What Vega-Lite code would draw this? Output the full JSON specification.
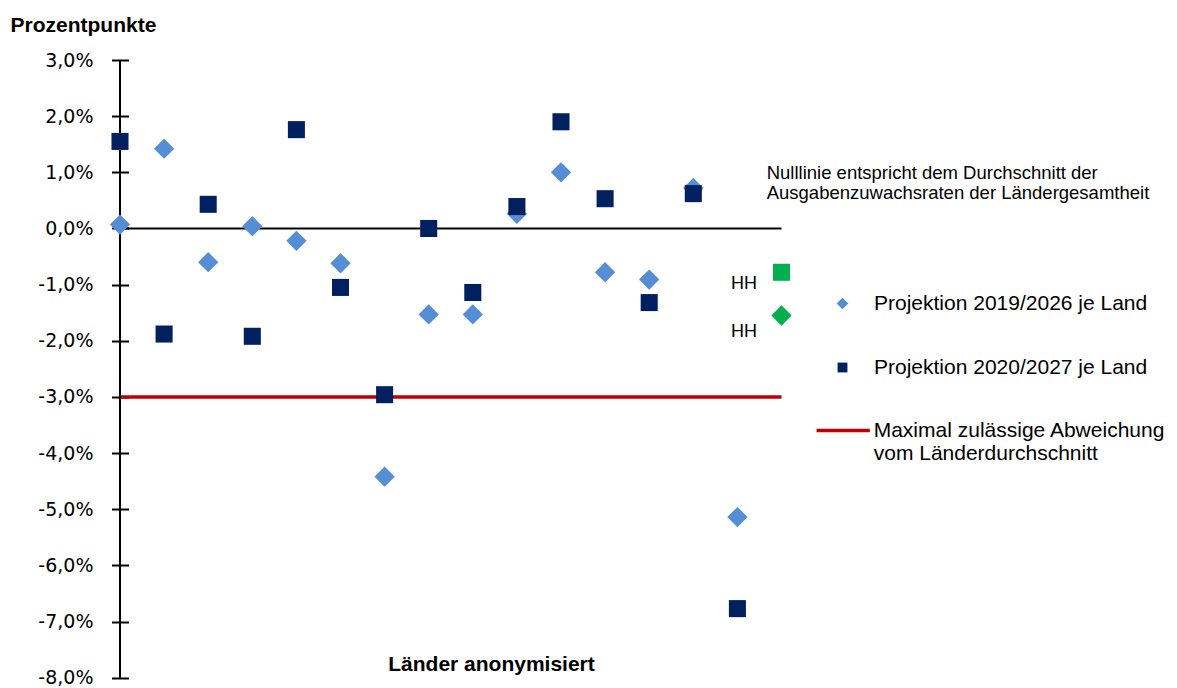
{
  "$schema": "https://vega.github.io/schema/vega-lite/v6.json",
  "width": 661.5,
  "height": 617.7,
  "autosize": "none",
  "padding": {"left": 120, "top": 60, "right": 395.5, "bottom": 10.3},
  "background": "white",
  "config": {
    "view": {"stroke": null},
    "font": "Liberation Sans",
    "locale": {
      "number": {"decimal": ",", "thousands": ".", "grouping": [3], "currency": ["", " €"], "minus": "-"}
    },
    "legend": {
      "labelFont": "Liberation Sans",
      "labelFontSize": 21,
      "labelColor": "#000000",
      "labelLimit": 400,
      "padding": 0,
      "titlePadding": 0
    }
  },
  "datasets": {
    "laender": [
      {"land": "Land 1", "series": "Projektion 2019/2026 je Land", "wert": 0.07},
      {"land": "Land 2", "series": "Projektion 2019/2026 je Land", "wert": 1.42},
      {"land": "Land 3", "series": "Projektion 2019/2026 je Land", "wert": -0.6},
      {"land": "Land 4", "series": "Projektion 2019/2026 je Land", "wert": 0.04},
      {"land": "Land 5", "series": "Projektion 2019/2026 je Land", "wert": -0.22},
      {"land": "Land 6", "series": "Projektion 2019/2026 je Land", "wert": -0.62},
      {"land": "Land 7", "series": "Projektion 2019/2026 je Land", "wert": -4.42},
      {"land": "Land 8", "series": "Projektion 2019/2026 je Land", "wert": -1.53},
      {"land": "Land 9", "series": "Projektion 2019/2026 je Land", "wert": -1.53},
      {"land": "Land 10", "series": "Projektion 2019/2026 je Land", "wert": 0.26},
      {"land": "Land 11", "series": "Projektion 2019/2026 je Land", "wert": 1.0},
      {"land": "Land 12", "series": "Projektion 2019/2026 je Land", "wert": -0.78},
      {"land": "Land 13", "series": "Projektion 2019/2026 je Land", "wert": -0.91},
      {"land": "Land 14", "series": "Projektion 2019/2026 je Land", "wert": 0.72},
      {"land": "Land 15", "series": "Projektion 2019/2026 je Land", "wert": -5.14},
      {"land": "HH", "series": "Projektion 2019/2026 je Land", "wert": -1.55},
      {"land": "Land 1", "series": "Projektion 2020/2027 je Land", "wert": 1.55},
      {"land": "Land 2", "series": "Projektion 2020/2027 je Land", "wert": -1.88},
      {"land": "Land 3", "series": "Projektion 2020/2027 je Land", "wert": 0.43},
      {"land": "Land 4", "series": "Projektion 2020/2027 je Land", "wert": -1.92},
      {"land": "Land 5", "series": "Projektion 2020/2027 je Land", "wert": 1.76},
      {"land": "Land 6", "series": "Projektion 2020/2027 je Land", "wert": -1.05},
      {"land": "Land 7", "series": "Projektion 2020/2027 je Land", "wert": -2.96},
      {"land": "Land 8", "series": "Projektion 2020/2027 je Land", "wert": 0.0},
      {"land": "Land 9", "series": "Projektion 2020/2027 je Land", "wert": -1.14},
      {"land": "Land 10", "series": "Projektion 2020/2027 je Land", "wert": 0.39},
      {"land": "Land 11", "series": "Projektion 2020/2027 je Land", "wert": 1.9},
      {"land": "Land 12", "series": "Projektion 2020/2027 je Land", "wert": 0.53},
      {"land": "Land 13", "series": "Projektion 2020/2027 je Land", "wert": -1.32},
      {"land": "Land 14", "series": "Projektion 2020/2027 je Land", "wert": 0.62},
      {"land": "Land 15", "series": "Projektion 2020/2027 je Land", "wert": -6.77},
      {"land": "HH", "series": "Projektion 2020/2027 je Land", "wert": -0.78}
    ],
    "grenze": [
      {"name": "Maximal zulässige Abweichung vom Länderdurchschnitt", "wert": -3}
    ]
  },
  "layer": [
    {
      "data": {"name": "grenze"},
      "mark": {"type": "rule", "strokeWidth": 3.5},
      "encoding": {
        "y": {"field": "wert", "type": "quantitative", "scale": {"domain": [-8, 3], "nice": false, "zero": false}},
        "stroke": {
          "field": "name",
          "type": "nominal",
          "scale": {"range": ["#C00000"]},
          "legend": {
            "orient": "none",
            "legendX": 694.7,
            "legendY": 342,
            "title": null,
            "symbolType": "stroke",
            "symbolSize": 2841,
            "symbolStrokeWidth": 3.5,
            "labelOffset": 2,
            "labelExpr": "['Maximal zulässige Abweichung', 'vom Länderdurchschnitt']"
          }
        }
      }
    },
    {
      "data": {"values": [{}]},
      "mark": {"type": "rule", "color": "#000000", "strokeWidth": 2},
      "encoding": {"y": {"datum": 0, "type": "quantitative"}}
    },
    {
      "data": {"values": [{}]},
      "mark": {"type": "rule", "color": "#000000", "strokeWidth": 2},
      "encoding": {"x": {"datum": "Land 1", "type": "nominal"}}
    },
    {
      "data": {"name": "laender"},
      "mark": {"type": "point", "filled": true, "opacity": 1, "strokeWidth": 0, "size": 412},
      "encoding": {
        "x": {
          "field": "land",
          "type": "nominal",
          "scale": {
            "type": "point",
            "padding": 0,
            "domain": ["Land 1", "Land 2", "Land 3", "Land 4", "Land 5", "Land 6", "Land 7", "Land 8", "Land 9", "Land 10", "Land 11", "Land 12", "Land 13", "Land 14", "Land 15", "HH"]
          },
          "axis": {
            "title": "Länder anonymisiert",
            "domain": false,
            "ticks": false,
            "labels": false,
            "grid": false,
            "titleX": 371,
            "titleY": -13,
            "titleAlign": "center",
            "titleBaseline": "middle",
            "titleFont": "Liberation Sans",
            "titleFontSize": 21,
            "titleFontWeight": "bold",
            "titleColor": "#000000"
          }
        },
        "y": {
          "field": "wert",
          "type": "quantitative",
          "scale": {"domain": [-8, 3], "nice": false, "zero": false},
          "axis": {
            "title": "Prozentpunkte",
            "values": [-8, -7, -6, -5, -4, -3, -2, -1, 0, 1, 2, 3],
            "format": ".1f",
            "labelExpr": "datum.label + '%'",
            "offset": -8.5,
            "tickSize": 17,
            "tickWidth": 2,
            "tickColor": "#000000",
            "domain": false,
            "grid": false,
            "labelPadding": 18.5,
            "labelFont": "DejaVu Sans",
            "labelFontSize": 19,
            "labelColor": "#000000",
            "titleAngle": 0,
            "titleAlign": "left",
            "titleBaseline": "middle",
            "titleX": -118.5,
            "titleY": -35,
            "titleFont": "Liberation Sans",
            "titleFontSize": 21,
            "titleFontWeight": "bold",
            "titleColor": "#000000"
          }
        },
        "color": {
          "condition": {"test": "datum.land === 'HH'", "value": "#00B050"},
          "field": "series",
          "type": "nominal",
          "scale": {"domain": ["Projektion 2019/2026 je Land", "Projektion 2020/2027 je Land"], "range": ["#558ED5", "#002060"]},
          "legend": {
            "orient": "none",
            "legendX": 712,
            "legendY": 233,
            "title": null,
            "symbolSize": 137,
            "rowPadding": 42,
            "labelOffset": 21
          }
        },
        "shape": {
          "field": "series",
          "type": "nominal",
          "scale": {
            "domain": ["Projektion 2019/2026 je Land", "Projektion 2020/2027 je Land"],
            "range": ["M0,-1L1,0L0,1L-1,0Z", "M-0.84,-0.84L0.84,-0.84L0.84,0.84L-0.84,0.84Z"]
          },
          "legend": {
            "orient": "none",
            "legendX": 712,
            "legendY": 233,
            "title": null,
            "symbolSize": 137,
            "rowPadding": 42,
            "labelOffset": 21
          }
        }
      }
    },
    {
      "data": {"name": "laender"},
      "transform": [{"filter": "datum.land === 'HH' && datum.series === 'Projektion 2020/2027 je Land'"}],
      "mark": {"type": "text", "align": "right", "baseline": "middle", "dx": -24.5, "dy": 12, "font": "Liberation Sans", "fontSize": 18, "color": "#000000"},
      "encoding": {
        "x": {"field": "land", "type": "nominal"},
        "y": {"field": "wert", "type": "quantitative"},
        "text": {"field": "land"}
      }
    },
    {
      "data": {"name": "laender"},
      "transform": [{"filter": "datum.land === 'HH' && datum.series === 'Projektion 2019/2026 je Land'"}],
      "mark": {"type": "text", "align": "right", "baseline": "middle", "dx": -24.5, "dy": 16.7, "font": "Liberation Sans", "fontSize": 18, "color": "#000000"},
      "encoding": {
        "x": {"field": "land", "type": "nominal"},
        "y": {"field": "wert", "type": "quantitative"},
        "text": {"field": "land"}
      }
    },
    {
      "data": {"values": [{}]},
      "mark": {
        "type": "text",
        "align": "left",
        "baseline": "middle",
        "dx": -14.8,
        "font": "Liberation Sans",
        "fontSize": 18.5,
        "lineHeight": 20,
        "color": "#000000",
        "text": ["Nulllinie entspricht dem Durchschnitt der", "Ausgabenzuwachsraten der Ländergesamtheit"]
      },
      "encoding": {
        "x": {"datum": "HH", "type": "nominal"},
        "y": {"datum": 0.98, "type": "quantitative"}
      }
    }
  ]
}
